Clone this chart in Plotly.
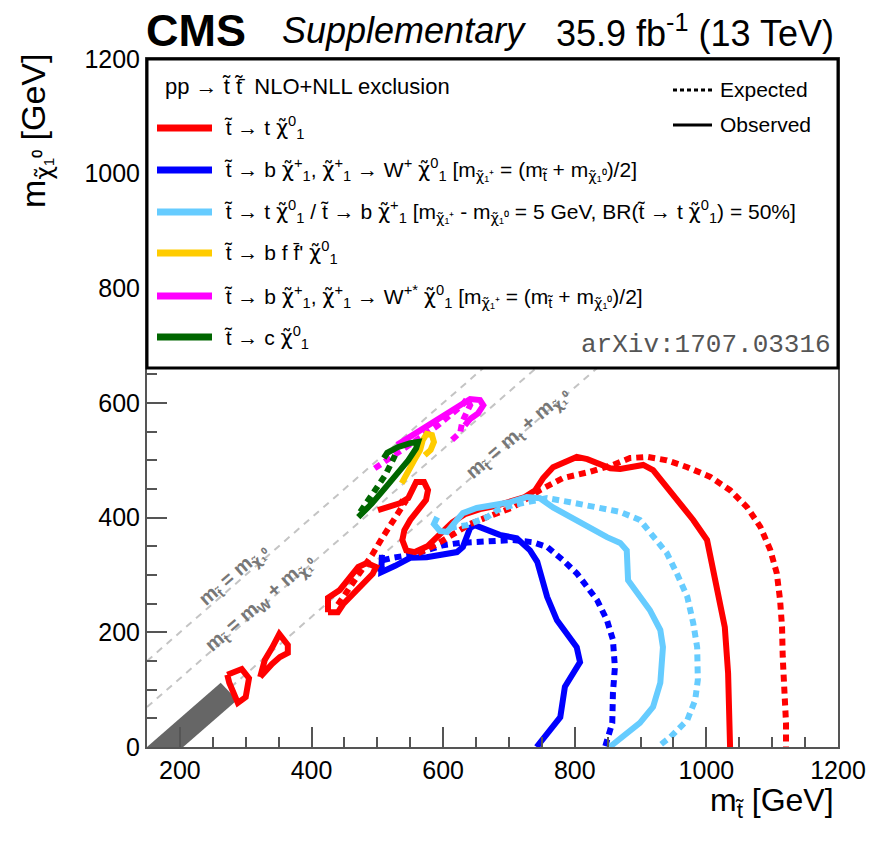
import plotly.graph_objects as go

# ---------------- data (GeV) ----------------
M_W = 80.4
M_TOP = 173.0
x_range = [150, 1200]
y_range = [0, 1200]
x_ticks = [200, 400, 600, 800, 1000, 1200]
y_ticks = [0, 200, 400, 600, 800, 1000, 1200]

# grey excluded corridor
band_x = [150, 205, 287, 262]
band_y = [0, 0, 82, 112]

# T2tt  (red)
red_obs_x = [501, 519, 534, 547, 553, 559, 571, 577, 574, 562, 550, 541, 538, 544, 557, 576, 595, 614, 633, 656,
             679, 702, 724, 740, 752, 767, 788, 803, 819, 834, 854, 869, 888, 904, 919, 940, 960, 980, 1001, 1010,
             1021, 1028, 1033, 1036,
             None, 425, 425, 443, 455, 471, 484, 498, 493, 478, 463, 448, 440, 425,
             None, 322, 329, 340, 351, 364, 364, 352, 340, 322,
             None, 272, 294, 305, 300, 288, 281, 275, 272]
red_obs_y = [413, 420, 425, 434, 448, 462, 462, 448, 431, 413, 396, 378, 361, 343, 340, 350, 370, 392, 406, 415,
             420, 427, 436, 448, 469, 488, 500, 506, 502, 495, 486, 485, 488, 492, 483, 453, 425, 396, 361, 314,
             256, 209, 129, 0,
             None, 235, 260, 274, 291, 314, 321, 314, 302, 284, 267, 249, 235, 235,
             None, 122, 152, 173, 197, 178, 164, 157, 145, 122,
             None, 126, 136, 120, 87, 77, 94, 112, 126]
red_exp_x = [562, 588, 618, 641, 667, 706, 747, 782, 823, 858, 884, 910, 940, 971, 1006, 1036, 1062, 1082, 1097,
             1107, 1112, 1115, 1116, 1119, 1121, 1121,
             None, 440, 458, 477, 492, 507, 522, 534, 541, 528]
red_exp_y = [338, 352, 373, 389, 401, 418, 448, 469, 480, 492, 504, 506, 500, 488, 471, 448, 418, 384, 344,
             303, 256, 209, 157, 99, 42, 0,
             None, 248, 277, 309, 335, 364, 392, 413, 425, 431]

# T2bW (blue)
blue_obs_x = [507, 506, 527, 550, 575, 600, 621, 630, 636, 641, 648, 667, 686, 712, 732, 743, 750, 758, 773, 788,
              803, 808, 793, 785, 778, 742]
blue_obs_y = [335, 305, 316, 330, 331, 335, 340, 349, 366, 382, 387, 378, 370, 364, 343, 323, 296, 262, 221, 199,
              174, 148, 122, 105, 52, 0]
blue_exp_x = [504, 509, 524, 550, 575, 600, 626, 651, 676, 706, 737, 758, 782, 803, 819, 834, 849, 858, 861, 858,
              857, 846]
blue_exp_y = [305, 326, 330, 335, 343, 352, 356, 357, 359, 361, 357, 349, 326, 303, 279, 256, 221, 187, 139, 94,
              42, 0]

# T2tb (light blue)
lblue_obs_x = [591, 586, 595, 606, 621, 630, 651, 676, 702, 727, 747, 767, 793, 823, 849, 869, 879, 881, 895, 914,
               930, 934, 930, 919, 899, 873, 853]
lblue_obs_y = [401, 389, 377, 375, 396, 408, 417, 422, 427, 436, 434, 418, 401, 382, 366, 356, 343, 291, 268, 239,
               204, 174, 112, 70, 42, 17, 0]
lblue_exp_x = [610, 636, 667, 682, 706, 732, 758, 793, 834, 869, 899, 919, 940, 955, 971, 980, 986, 987, 983, 971,
               945, 926]
lblue_exp_y = [382, 387, 401, 413, 422, 427, 434, 427, 418, 410, 396, 366, 338, 303, 262, 216, 174, 117, 82, 47,
               17, 0]

# T2bff (yellow)
yellow_obs_x = [537, 547, 556, 565, 569, 575, 583, 586, 581, 572]
yellow_obs_y = [460, 483, 500, 518, 535, 546, 544, 532, 518, 509]

# T2bW* (magenta)
mag_obs_x = [530, 554, 580, 606, 626, 641, 656, 661, 653, 641, 633]
mag_obs_y = [527, 544, 563, 581, 596, 607, 605, 596, 582, 572, 561]
mag_exp_x = [496, 519, 542, 565, 591, 613, 629, 636, 641, 635, 629, 626, 618, 610]
mag_exp_y = [486, 504, 521, 541, 560, 581, 596, 607, 596, 582, 567, 549, 539, 532]

# T2cc (green)
green_obs_x = [471, 492, 512, 531, 547, 559, 562, 550, 531, 515, 510]
green_obs_y = [401, 425, 452, 478, 500, 521, 532, 530, 523, 513, 504]
green_exp_x = [474, 486, 500, 512, 522, 527]
green_exp_y = [410, 431, 452, 474, 497, 509]

# ---------------- styling ----------------
RED = "#ff0000"
BLUE = "#0000ff"
LBLUE = "#66ccff"
YELLOW = "#ffcc00"
MAGENTA = "#ff00ff"
GREEN = "#006600"
FONT = "Liberation Sans, Arial, Helvetica, sans-serif"
LW = 6
DOT = "7px,5px"

# plot area in window pixels: x 147..838, y 59..747 (page body margin removed in post_script)
L, R, T, B = 147, 838, 59, 747
W, H = 883, 846


def px(x):
    return (x - L) / (R - L)


def py(y):
    return (B - y) / (B - T)


fig = go.Figure()

# diagonal reference lines
for off in [0.0, M_W, M_TOP]:
    xs = [max(x_range[0], off + 0), x_range[1]]
    fig.add_trace(go.Scatter(x=xs, y=[v - off for v in xs], mode="lines",
                             line=dict(color="#c4c4c4", width=2, dash="7px,6px"), hoverinfo="skip"))

fig.add_trace(go.Scatter(x=band_x, y=band_y, fill="toself", fillcolor="#666666", mode="lines",
                         line=dict(width=0, color="#666666"), hoverinfo="skip"))


def contour(xs, ys, color, dashed):
    fig.add_trace(go.Scatter(x=xs, y=ys, mode="lines", connectgaps=False,
                             line=dict(color=color, width=LW, dash=DOT if dashed else "solid"),
                             hoverinfo="skip"))


contour(blue_exp_x, blue_exp_y, BLUE, True)
contour(blue_obs_x, blue_obs_y, BLUE, False)
contour(red_exp_x, red_exp_y, RED, True)
contour(red_obs_x, red_obs_y, RED, False)
contour(lblue_exp_x, lblue_exp_y, LBLUE, True)
contour(lblue_obs_x, lblue_obs_y, LBLUE, False)
contour(mag_exp_x, mag_exp_y, MAGENTA, True)
contour(mag_obs_x, mag_obs_y, MAGENTA, False)
contour(yellow_obs_x, yellow_obs_y, YELLOW, False)
contour(green_exp_x, green_exp_y, GREEN, True)
contour(green_obs_x, green_obs_y, GREEN, False)

axis_common = dict(ticks="inside", ticklen=20, tickwidth=1.5, tickcolor="#555", showline=True,
                   linecolor="#555", linewidth=2, mirror=True, showgrid=False, zeroline=False,
                   automargin=False,
                   tickfont=dict(family=FONT, size=25, color="black"),
                   minor=dict(ticks="inside", ticklen=10, dtick=50, tick0=0, tickcolor="#555", tickwidth=1.5,
                              showgrid=False))
fig.update_xaxes(range=x_range, tickvals=x_ticks, **axis_common)
fig.update_yaxes(range=y_range, tickvals=y_ticks, **axis_common)

shapes = []
# legend box
shapes.append(dict(type="rect", xref="paper", yref="paper", x0=0, x1=1, y0=py(368), y1=1,
                   fillcolor="white", line=dict(color="black", width=3), layer="above"))
legend_rows = [128, 170, 212, 253, 296, 337]
legend_colors = [RED, BLUE, LBLUE, YELLOW, MAGENTA, GREEN]
for yy, c in zip(legend_rows, legend_colors):
    shapes.append(dict(type="line", xref="paper", yref="paper", x0=px(157), x1=px(212), y0=py(yy), y1=py(yy),
                       line=dict(color=c, width=7), layer="above"))
shapes.append(dict(type="line", xref="paper", yref="paper", x0=px(673), x1=px(712), y0=py(90), y1=py(90),
                   line=dict(color="black", width=3, dash="4px,3px"), layer="above"))
shapes.append(dict(type="line", xref="paper", yref="paper", x0=px(673), x1=px(712), y0=py(125), y1=py(125),
                   line=dict(color="black", width=3), layer="above"))

ts = "t\u0303"
chi = '<span style="font-family:DejaVu Sans">\u03c7\u0303</span>'
c10 = chi + "<sup>0</sup><sub>1</sub>"
c1p = chi + "<sup>+</sup><sub>1</sub>"
sub_c10 = chi + "\u2081\u2070"
sub_c1p = chi + "\u2081\u207a"
legend_texts = [
    f"{ts} \u2192 t {c10}",
    f"{ts} \u2192 b {c1p}, {c1p} \u2192 W<sup>+</sup> {c10} [m<sub>{sub_c1p}</sub> = (m<sub>{ts}</sub> + m<sub>{sub_c10}</sub>)/2]",
    f"{ts} \u2192 t {c10} / {ts} \u2192 b {c1p} [m<sub>{sub_c1p}</sub> - m<sub>{sub_c10}</sub> = 5 GeV, BR({ts} \u2192 t {c10}) = 50%]",
    f"{ts} \u2192 b f f\u0304' {c10}",
    f"{ts} \u2192 b {c1p}, {c1p} \u2192 W<sup>+*</sup> {c10} [m<sub>{sub_c1p}</sub> = (m<sub>{ts}</sub> + m<sub>{sub_c10}</sub>)/2]",
    f"{ts} \u2192 c {c10}",
]

ann = []
for yy, t in zip(legend_rows, legend_texts):
    ann.append(dict(xref="paper", yref="paper", x=px(222), y=py(yy), xanchor="left", yanchor="middle",
                    text=t, showarrow=False, font=dict(family=FONT, size=21, color="black")))
ann.append(dict(xref="paper", yref="paper", x=px(163), y=py(87), xanchor="left", yanchor="middle",
                text=f"pp \u2192 {ts} {ts}\u0304  NLO+NLL exclusion", showarrow=False,
                font=dict(family=FONT, size=22, color="black")))
ann.append(dict(xref="paper", yref="paper", x=px(718), y=py(90), xanchor="left", yanchor="middle",
                text="Expected", showarrow=False, font=dict(family=FONT, size=21, color="black")))
ann.append(dict(xref="paper", yref="paper", x=px(718), y=py(125), xanchor="left", yanchor="middle",
                text="Observed", showarrow=False, font=dict(family=FONT, size=21, color="black")))
ann.append(dict(xref="paper", yref="paper", x=px(833), y=py(345), xanchor="right", yanchor="middle",
                text="arXiv:1707.03316", showarrow=False,
                font=dict(family="Liberation Mono, Courier New, monospace", size=26, color="#555555")))

# header
ann.append(dict(xref="paper", yref="paper", x=px(145), y=py(30), xanchor="left", yanchor="middle",
                text="<b>CMS</b>", showarrow=False, borderpad=0,
                font=dict(family=FONT, size=45, color="black")))
ann.append(dict(xref="paper", yref="paper", x=px(280), y=py(31), xanchor="left", yanchor="middle",
                text="<i>Supplementary</i>", showarrow=False, font=dict(family=FONT, size=36, color="black")))
ann.append(dict(xref="paper", yref="paper", x=px(836), y=py(31), xanchor="right", yanchor="middle",
                text="35.9 fb<sup>-1</sup> (13 TeV)", showarrow=False,
                font=dict(family=FONT, size=36, color="black")))

# axis titles
ann.append(dict(xref="paper", yref="paper", x=px(836), y=py(802), xanchor="right", yanchor="middle",
                text=f"m<sub>{ts}</sub> [GeV]", showarrow=False, font=dict(family=FONT, size=32, color="black")))
ann.append(dict(xref="paper", yref="paper", x=px(36), y=py(52), xanchor="center", yanchor="top",
                textangle=-90, text=f"m<sub>{sub_c10}</sub> [GeV]", showarrow=False,
                font=dict(family=FONT, size=34, color="black")))

# diagonal labels
diag_labels = [
    (281, 300, f"m<sub>{ts}</sub> = m<sub>{sub_c10}</sub>"),
    (322, 250, f"m<sub>{ts}</sub> = m<sub>W</sub> + m<sub>{sub_c10}</sub>"),
    (714, 546, f"m<sub>{ts}</sub> = m<sub>t</sub> + m<sub>{sub_c10}</sub>"),
]
for xx, yy, t in diag_labels:
    ann.append(dict(x=xx, y=yy, xref="x", yref="y", text=f"<b>{t}</b>", showarrow=False, textangle=-41,
                    font=dict(family=FONT, size=20, color="#777777")))

fig.update_layout(width=W, height=H, margin=dict(l=L, r=W - R, t=T, b=H - B),
                  plot_bgcolor="white", paper_bgcolor="white", showlegend=False,
                  shapes=shapes, annotations=ann, font=dict(family=FONT))

fig.write_html("out.html", config={"displayModeBar": False},
               post_script="document.body.style.margin='0';")
